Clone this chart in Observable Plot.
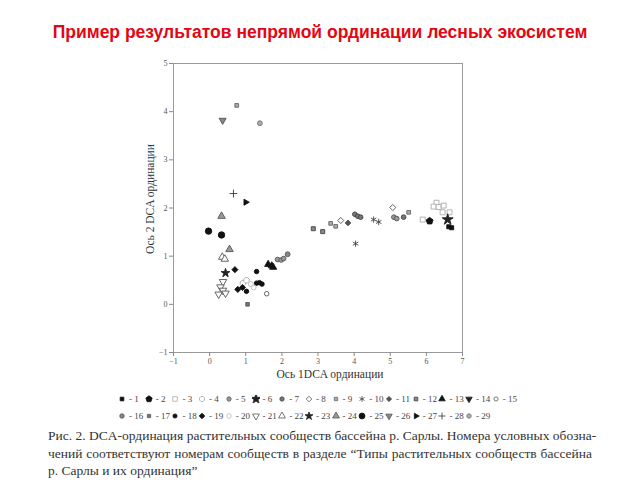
<!DOCTYPE html>
<html><head><meta charset="utf-8">
<script src="https://cdn.jsdelivr.net/npm/d3@7"></script>
<script src="https://cdn.jsdelivr.net/npm/@observablehq/plot@0.6"></script>
<style>
body{margin:0;background:#fff;width:640px;height:480px;position:relative;overflow:hidden}
#title{position:absolute;top:22px;left:0;width:640px;text-align:center;font:bold 17.5px "Liberation Sans",Arial,sans-serif;color:#e30613}
#chart{position:absolute;top:0;left:0}
#legend{position:absolute;left:0;top:0;width:640px;height:480px;pointer-events:none}
.li{position:absolute;font:9px "Liberation Serif",serif;color:#444;white-space:nowrap;display:flex;align-items:center;gap:3px}
.cap{position:absolute;left:48px;width:544px;font:13.5px "Liberation Serif",serif;color:#333;white-space:nowrap}
.j{text-align:justify;text-align-last:justify}
</style></head>
<body>
<div id="title">Пример результатов непрямой ординации лесных экосистем</div>
<div id="chart"></div>
<div id="legend"></div>
<div class="cap j" style="top:428px">Рис. 2. DCA-ординация растительных сообществ бассейна р. Сарлы. Номера условных обозна-</div>
<div class="cap j" style="top:446px">чений соответствуют номерам сообществ в разделе “Типы растительных сообществ бассейна</div>
<div class="cap" style="top:463px">р. Сарлы и их ординация”</div>
<script>
// --- data ---
const community = [9,26,29,28,27,24,25,25,24,22,22,23,19,21,21,21,21,21,18,19,18,19,4,4,20,20,18,18,18,15,17,13,13,13,5,5,5,16,12,12,9,9,8,11,7,7,7,10,10,10,8,5,5,7,9,3,2,3,3,3,3,3,3,6,1,1];
const axis1 = [0.75,0.36,1.39,0.66,1.00,0.33,-0.03,0.33,0.55,0.35,0.42,0.44,0.70,0.37,0.30,0.37,0.25,0.44,1.30,0.78,1.02,0.91,0.92,1.02,1.22,1.14,1.30,1.38,1.45,1.58,1.05,1.62,1.72,1.76,1.88,1.98,2.05,2.16,2.87,3.13,3.35,3.49,3.63,3.83,4.02,4.10,4.18,4.04,4.54,4.68,5.07,5.10,5.18,5.37,5.51,5.90,6.09,6.28,6.20,6.34,6.48,6.45,6.64,6.59,6.62,6.70];
const axis2 = [4.13,3.82,3.76,2.30,2.12,1.83,1.52,1.44,1.14,0.98,0.94,0.65,0.72,0.47,0.36,0.29,0.21,0.23,0.68,0.31,0.27,0.35,0.44,0.50,0.35,0.42,0.44,0.45,0.42,0.22,0.00,0.83,0.80,0.77,0.93,0.92,0.95,1.04,1.57,1.51,1.68,1.62,1.74,1.69,1.87,1.83,1.81,1.26,1.76,1.71,2.01,1.81,1.78,1.81,1.91,1.76,1.73,2.11,2.03,2.02,2.05,1.91,1.91,1.76,1.61,1.59];
const legendCodes = d3.range(1, 30);
const xTicks = [-1,0,1,2,3,4,5,6,7];
const yTicks = [-1,0,1,2,3,4,5];
const xLabel = "Ось 1DCA ординации";
const yLabel = "Ось 2 DCA ординации";

// --- marker styles ---
function poly(n, rot) {
  return {draw(ctx, size) {
    const R = Math.sqrt(2 * size / (n * Math.sin(2 * Math.PI / n)));
    for (let i = 0; i < n; i++) {
      const a = rot + 2 * Math.PI * i / n;
      const px = R * Math.sin(a), py = -R * Math.cos(a);
      i ? ctx.lineTo(px, py) : ctx.moveTo(px, py);
    }
    ctx.closePath();
  }};
}
const sq = poly(4, Math.PI / 4), tri = poly(3, 0), triD = poly(3, Math.PI), triR = poly(3, Math.PI / 2),
      pent = poly(5, 0), oct = poly(8, Math.PI / 8), dia = poly(4, 0);
const circ = d3.symbolCircle, star = d3.symbolStar, ast = d3.symbolAsterisk, plus = d3.symbolPlus;
const W = "#fff";
const style = {
  1:[sq,"#111","#111",2.6], 2:[pent,"#111","#111",3.6], 3:[sq,W,"#aaa",3.2], 4:[oct,W,"#aaa",3.2],
  5:[circ,"#999","#555",2.7], 6:[star,"#222","#222",4], 7:[circ,"#777","#444",2.7], 8:[dia,W,"#555",2.8],
  9:[sq,"#aaa","#666",2.4], 10:[ast,"none","#444",3.4], 11:[dia,"#555","#444",2.6], 12:[sq,"#888","#444",2.6],
  13:[tri,"#111","#111",3], 14:[triD,"#222","#222",3], 15:[circ,W,"#555",2.6], 16:[circ,"#888","#555",2.8],
  17:[sq,"#777","#555",2.3], 18:[circ,"#111","#111",2.6], 19:[dia,"#111","#111",2.8], 20:[circ,W,"#bbb",2.8],
  21:[triD,W,"#555",3.2], 22:[tri,W,"#555",3.2], 23:[star,"#222","#222",3.2], 24:[tri,"#999","#555",3.2],
  25:[circ,"#111","#111",3.7], 26:[triD,"#888","#555",3], 27:[triR,"#111","#111",2.6], 28:[plus,"#333","#333",3],
  29:[circ,"#aaa","#777",2.8]
};

const pts = community.map((c, i) => ({c, x: axis1[i], y: axis2[i]}));

const marks = legendCodes.map(c => {
  const [s, f, st, r] = style[c];
  return Plot.dot(pts.filter(p => p.c === c), {x: "x", y: "y", symbol: s, fill: f, stroke: st, strokeWidth: 0.9, r: r * 0.87});
});

const chart = Plot.plot({
  width: 640, height: 385,
  marginLeft: 173, marginRight: 178, marginTop: 63, marginBottom: 33,
  style: {fontFamily: "'Liberation Serif', serif", fontSize: "8px", color: "#555", background: "transparent"},
  x: {domain: [-1, 7]},
  y: {domain: [-1, 5]},
  marks: [
    Plot.frame({stroke: "#999"}),
    Plot.axisX({ticks: xTicks, tickFormat: "d", tickSize: 4, tickPadding: 2, label: null, stroke: "#888", fill: "#555"}),
    Plot.axisY({ticks: yTicks, tickFormat: "d", tickSize: 4, tickPadding: 2, label: null, stroke: "#888", fill: "#555"}),
    ...marks,
    Plot.text([xLabel], {frameAnchor: "bottom", textAnchor: "middle", lineAnchor: "middle", dx: 12, dy: 22, fontSize: 11.5, fill: "#333", text: d => d}),
    Plot.text([yLabel], {frameAnchor: "left", textAnchor: "middle", lineAnchor: "middle", dx: -23, dy: -9, rotate: -90, fontSize: 11.5, fill: "#333", text: d => d})
  ]
});
document.getElementById("chart").append(chart);

// --- legend ---
const leg = document.getElementById("legend");
legendCodes.forEach((c, i) => {
  const row = i < 15 ? 0 : 1, col = row ? i - 15 : i;
  const [s, f, st, r] = style[c];
  const el = document.createElement("div");
  el.className = "li";
  el.style.left = (118 + col * 26.7) + "px";
  el.style.top = (row ? 411 : 394) + "px";
  const path = d3.symbol(s, Math.PI * (r * 0.8) ** 2)();
  el.innerHTML = `<svg width="8" height="8" viewBox="-4 -4 8 8"><path d="${path}" fill="${f}" stroke="${st}" stroke-width="0.8"/></svg><span>- ${c}</span>`;
  leg.append(el);
});
</script>
</body></html>
